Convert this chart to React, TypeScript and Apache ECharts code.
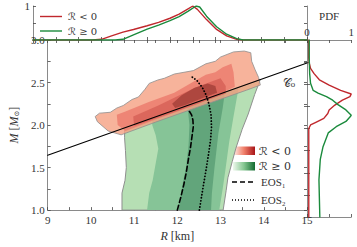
import React, { useEffect, useRef } from 'react';
import * as echarts from 'echarts';

// ---------- data ----------
const rTicks = [9, 10, 11, 12, 13, 14, 15];
const mTicks = [1.0, 1.5, 2.0, 2.5, 3.0];

// causality-like line C0 : [R, M]
const c0Line = [[9, 1.645], [15, 2.73]];

// EOS curves [R, M]
const eos1 = [[12.0, 1.0], [12.08, 1.15], [12.15, 1.3], [12.21, 1.45], [12.26, 1.61], [12.3, 1.72], [12.33, 1.83], [12.37, 1.98], [12.36, 2.06], [12.33, 2.12], [12.28, 2.16]];
const eos2 = [[12.51, 1.0], [12.58, 1.22], [12.66, 1.46], [12.72, 1.65], [12.77, 1.83], [12.79, 1.98], [12.78, 2.12], [12.73, 2.25], [12.66, 2.36], [12.58, 2.44], [12.46, 2.52], [12.33, 2.57]];

// marginal PDF of R : [R, pdf]
const pdfRNeg = [[9, 0], [10.3, 0], [10.5, 0.02], [10.72, 0.12], [10.97, 0.23], [11.2, 0.31], [11.5, 0.42], [11.75, 0.52], [12.0, 0.64], [12.2, 0.76], [12.35, 0.88], [12.5, 1.0], [12.6, 0.9], [12.8, 0.6], [13.02, 0.31], [13.24, 0.12], [13.46, 0.02], [13.6, 0], [15, 0]];
const pdfRPos = [[9, 0], [10.8, 0], [10.97, 0.02], [11.2, 0.15], [11.5, 0.32], [11.75, 0.44], [12.0, 0.57], [12.2, 0.69], [12.4, 0.85], [12.57, 1.0], [12.65, 0.97], [12.8, 0.7], [13.02, 0.39], [13.24, 0.17], [13.46, 0.04], [13.6, 0], [15, 0]];

// marginal PDF of M : [pdf, M]
const pdfMNeg = [[0.04, 1.0], [0.04, 2.0], [0.08, 2.04], [0.2, 2.07], [0.38, 2.115], [0.47, 2.17], [0.5, 2.21], [0.63, 2.265], [0.8, 2.32], [0.97, 2.36], [1.0, 2.39], [0.76, 2.43], [0.5, 2.49], [0.28, 2.55], [0.16, 2.62], [0.08, 2.68], [0.05, 2.74], [0.04, 2.8], [0.04, 3.0]];
const pdfMPos = [[0.29, 1.0], [0.27, 1.42], [0.3, 1.65], [0.36, 1.79], [0.48, 1.95], [0.66, 2.02], [0.88, 2.08], [0.97, 2.13], [1.0, 2.15], [0.88, 2.21], [0.7, 2.27], [0.58, 2.32], [0.44, 2.36], [0.25, 2.4], [0.14, 2.43], [0.08, 2.51], [0.06, 2.62], [0.05, 2.8], [0.05, 3.0]];

// contour levels [R, M]
const greenLevel1 = [[10.78, 1.96], [11.5, 2.097], [12.5, 2.279], [13.3, 2.423], [13.92, 2.535], [13.79, 2.36], [13.64, 2.13], [13.5, 1.95], [13.35, 1.72], [13.27, 1.57], [13.17, 1.38], [13.13, 1.23], [13.06, 1.0], [10.72, 1.0], [10.72, 1.2], [10.79, 1.35], [10.82, 1.5], [10.8, 1.7], [10.78, 1.85]];
const greenLevel2 = [[11.42, 2.082], [12.5, 2.279], [13.42, 2.445], [13.3, 2.1], [13.2, 1.8], [13.12, 1.5], [13.05, 1.25], [12.97, 1.0], [11.3, 1.0], [11.35, 1.2], [11.43, 1.35], [11.5, 1.55], [11.56, 1.72], [11.5, 1.88], [11.42, 2.0]];
const greenLevel3 = [[12.22, 2.227], [13.1, 2.387], [13.05, 2.2], [12.95, 1.9], [12.86, 1.5], [12.8, 1.2], [12.78, 1.0], [12.03, 1.0], [12.12, 1.3], [12.2, 1.5], [12.26, 1.76], [12.28, 2.0], [12.25, 2.15]];
const redLevel1 = [[10.1, 2.1], [10.2, 2.14], [10.45, 2.15], [10.6, 2.2], [10.75, 2.23], [10.95, 2.3], [11.1, 2.33], [11.25, 2.42], [11.35, 2.49], [11.55, 2.53], [11.7, 2.55], [11.93, 2.6], [12.37, 2.64], [12.66, 2.72], [12.88, 2.75], [13.0, 2.8], [13.3, 2.86], [13.55, 2.87], [13.7, 2.85], [13.72, 2.75], [13.8, 2.65], [13.88, 2.56], [13.92, 2.47], [13.6, 2.41], [12.5, 2.215], [11.5, 2.035], [10.7, 1.885], [10.4, 1.93], [10.15, 2.04]];
const redLevel2 = [[10.6, 2.12], [10.8, 2.16], [11.34, 2.27], [11.93, 2.38], [12.37, 2.51], [12.66, 2.59], [12.88, 2.62], [13.05, 2.68], [13.25, 2.72], [13.3, 2.62], [13.33, 2.45], [12.5, 2.25], [11.5, 2.065], [10.8, 1.93], [10.62, 2.0]];
const redLevel3 = [[10.98, 2.1], [11.56, 2.23], [11.93, 2.32], [12.37, 2.43], [12.73, 2.5], [13.0, 2.55], [13.12, 2.46], [13.12, 2.37], [12.0, 2.165], [11.0, 1.99]];
const redLevel4 = [[11.88, 2.25], [12.1, 2.35], [12.4, 2.44], [12.7, 2.49], [12.88, 2.46], [12.92, 2.38], [12.6, 2.32], [12.2, 2.24], [11.95, 2.2]];

// ---------- component ----------
const FONT = '"Liberation Serif", "DejaVu Serif", serif';
const SYMF = '"DejaVu Serif", "DejaVu Sans", serif';
const RED = '#c0282d';
const GREEN = '#1a8a3c';

export default function App() {
  const ref = useRef<HTMLDivElement>(null);
  useEffect(() => {
    if (!ref.current) return;
    const chart = echarts.init(ref.current, undefined, { renderer: 'svg' });

    const axLine = { show: true, lineStyle: { color: '#8a8a8a', width: 1 } };
    const tick = { show: true, inside: true, length: 3, lineStyle: { color: '#444', width: 0.8 } };
    const minor = { show: true, splitNumber: 2, length: 3, lineStyle: { color: '#444', width: 0.8 } };
    const lbl = { fontFamily: FONT, fontSize: 11, color: '#333' };
    const noLbl = { show: false };
    const noSplit = { show: false };

    const poly = (pts: number[][], fill: string, opacity: number, stroke?: string) => ({
      type: 'custom',
      xAxisIndex: 0,
      yAxisIndex: 0,
      clip: true,
      silent: true,
      data: pts,
      encode: { x: 0, y: 1 },
      renderItem: (params: any, api: any) => {
        if (params.dataIndex !== 0) return null;
        return {
          type: 'polygon',
          shape: { points: pts.map((p) => api.coord(p)) },
          style: { fill, opacity, stroke: stroke || 'none', lineWidth: stroke ? 1 : 0 },
        };
      },
    });

    const line = (data: number[][], xi: number, yi: number, color: string, width: number, type: any = 'solid') => ({
      type: 'line',
      xAxisIndex: xi,
      yAxisIndex: yi,
      data,
      symbol: 'none',
      silent: true,
      z: 5,
      lineStyle: { color, width, type, cap: 'round' },
    });

    const option: any = {
      animation: false,
      grid: [
        { left: 33, top: 40, width: 274, height: 177 },
        { left: 33, top: 6, width: 274, height: 34 },
        { left: 307, top: 40, width: 46, height: 177 },
      ],
      xAxis: [
        {
          gridIndex: 0, type: 'value', min: 9, max: 15, interval: 1, position: 'bottom',
          axisLine: axLine, axisTick: tick, minorTick: minor, splitLine: noSplit,
          axisLabel: { ...lbl, margin: 4 },
          name: '{i|R} [km]', nameLocation: 'middle', nameGap: 19,
          nameTextStyle: { fontFamily: FONT, fontSize: 12, color: '#333', rich: { i: { fontFamily: FONT, fontSize: 12, fontStyle: 'italic', color: '#333' } } },
        },
        { gridIndex: 0, type: 'value', min: 9, max: 15, interval: 0.5, position: 'top', axisLine: axLine, axisTick: tick, splitLine: noSplit, axisLabel: noLbl },
        { gridIndex: 1, type: 'value', min: 9, max: 15, interval: 0.5, position: 'bottom', axisLine: axLine, axisTick: tick, splitLine: noSplit, axisLabel: noLbl },
        { gridIndex: 1, type: 'value', min: 9, max: 15, interval: 0.5, position: 'top', axisLine: axLine, axisTick: tick, splitLine: noSplit, axisLabel: noLbl },
        {
          gridIndex: 2, type: 'value', min: 0, max: 1, interval: 0.5, position: 'top',
          axisLine: axLine, axisTick: tick, splitLine: noSplit,
          axisLabel: { ...lbl, margin: 3, showMinLabel: true, showMaxLabel: true, formatter: (v: number) => (v === 0.5 ? '' : String(v)) },
          name: 'PDF', nameLocation: 'middle', nameGap: 10,
          nameTextStyle: { fontFamily: FONT, fontSize: 11, color: '#333' },
        },
        { gridIndex: 2, type: 'value', min: 0, max: 1, interval: 0.5, position: 'bottom', axisLine: axLine, axisTick: tick, splitLine: noSplit, axisLabel: noLbl },
      ],
      yAxis: [
        {
          gridIndex: 0, type: 'value', min: 1, max: 3, interval: 0.5, position: 'left',
          axisLine: axLine, axisTick: tick, minorTick: minor, splitLine: noSplit,
          axisLabel: { ...lbl, margin: 3, showMinLabel: true, showMaxLabel: true, formatter: (v: number) => v.toFixed(1) },
          name: '{i|M} [{i|M}{s|⊙}]', nameLocation: 'middle', nameGap: 21,
          nameTextStyle: {
            fontFamily: FONT, fontSize: 12, color: '#333',
            rich: {
              i: { fontFamily: FONT, fontSize: 12, fontStyle: 'italic', color: '#333' },
              s: { fontFamily: SYMF, fontSize: 7, color: '#333', verticalAlign: 'bottom' },
            },
          },
        },
        { gridIndex: 0, type: 'value', min: 1, max: 3, interval: 0.25, position: 'right', axisLine: axLine, axisTick: tick, splitLine: noSplit, axisLabel: noLbl },
        {
          gridIndex: 1, type: 'value', min: 0, max: 1, interval: 0.5, position: 'left',
          axisLine: axLine, axisTick: tick, splitLine: noSplit,
          axisLabel: { ...lbl, margin: 3, showMaxLabel: true, formatter: (v: number) => (v === 1 ? '1' : '') },
        },
        { gridIndex: 1, type: 'value', min: 0, max: 1, interval: 0.5, position: 'right', axisLine: axLine, axisTick: tick, splitLine: noSplit, axisLabel: noLbl },
        { gridIndex: 2, type: 'value', min: 1, max: 3, interval: 0.25, position: 'left', axisLine: axLine, axisTick: tick, splitLine: noSplit, axisLabel: noLbl },
        { gridIndex: 2, type: 'value', min: 1, max: 3, interval: 0.25, position: 'right', axisLine: axLine, axisTick: tick, splitLine: noSplit, axisLabel: noLbl },
      ],
      series: [
        poly(greenLevel1, '#b6dfb4', 1, '#8f8f8f'),
        poly(greenLevel2, '#86c497', 1),
        poly(greenLevel3, '#62a57b', 1),
        poly(redLevel1, '#f5a082', 0.8, '#8f8f8f'),
        poly(redLevel2, '#ec7d6e', 0.85),
        poly(redLevel3, '#d8645a', 0.9),
        poly(redLevel4, '#a8443c', 0.9),
        line(c0Line, 0, 0, '#000', 1.1),
        line(eos1, 0, 0, '#000', 1.6, [5, 3]),
        line(eos2, 0, 0, '#000', 1.8, [0.1, 3]),
        line(pdfRNeg, 2, 2, RED, 1.4),
        line(pdfRPos, 2, 2, GREEN, 1.4),
        line(pdfMNeg, 4, 4, RED, 1.4),
        line(pdfMPos, 4, 4, GREEN, 1.4),
      ],
      graphic: [
        // top-panel legend
        { type: 'line', shape: { x1: 40, y1: 16.5, x2: 62, y2: 16.5 }, style: { stroke: RED, lineWidth: 1.4 } },
        { type: 'text', x: 68, y: 16.5, style: { text: 'ℛ < 0', fontFamily: SYMF, fontSize: 10, fill: '#333', verticalAlign: 'middle' } },
        { type: 'line', shape: { x1: 40, y1: 31, x2: 62, y2: 31 }, style: { stroke: GREEN, lineWidth: 1.4 } },
        { type: 'text', x: 68, y: 31, style: { text: 'ℛ ≥ 0', fontFamily: SYMF, fontSize: 10, fill: '#333', verticalAlign: 'middle' } },
        // C0 label
        { type: 'text', x: 289, y: 83, style: { text: '𝒞₀', fontFamily: SYMF, fontSize: 11, fill: '#333', align: 'center', verticalAlign: 'middle' } },
        // main legend
        {
          type: 'rect', shape: { x: 233, y: 146.5, width: 22, height: 8.5 },
          style: { fill: new echarts.graphic.LinearGradient(0, 0, 1, 0, [{ offset: 0, color: '#fff0eb' }, { offset: 0.5, color: '#f0806a' }, { offset: 1, color: '#a81418' }]) },
        },
        { type: 'text', x: 259, y: 151, style: { text: 'ℛ < 0', fontFamily: SYMF, fontSize: 11, fill: '#333', verticalAlign: 'middle' } },
        {
          type: 'rect', shape: { x: 233, y: 162, width: 22, height: 8.5 },
          style: { fill: new echarts.graphic.LinearGradient(0, 0, 1, 0, [{ offset: 0, color: '#eef8ec' }, { offset: 0.5, color: '#84c690' }, { offset: 1, color: '#136b30' }]) },
        },
        { type: 'text', x: 259, y: 166.5, style: { text: 'ℛ ≥ 0', fontFamily: SYMF, fontSize: 11, fill: '#333', verticalAlign: 'middle' } },
        { type: 'line', shape: { x1: 232, y1: 182, x2: 255, y2: 182 }, style: { stroke: '#000', lineWidth: 1.5, lineDash: [5, 3] } },
        { type: 'text', x: 261, y: 182, style: { text: 'EOS₁', fontFamily: FONT, fontSize: 11, fill: '#333', verticalAlign: 'middle' } },
        { type: 'line', shape: { x1: 232, y1: 200, x2: 255, y2: 200 }, style: { stroke: '#000', lineWidth: 1.5, lineDash: [1, 2] } },
        { type: 'text', x: 261, y: 200, style: { text: 'EOS₂', fontFamily: FONT, fontSize: 11, fill: '#333', verticalAlign: 'middle' } },
      ],
    };
    chart.setOption(option);
    return () => chart.dispose();
  }, []);
  return <div ref={ref} style={{ position: 'fixed', left: 0, top: 0, width: 357, height: 247, background: '#fff' }} />;
}
